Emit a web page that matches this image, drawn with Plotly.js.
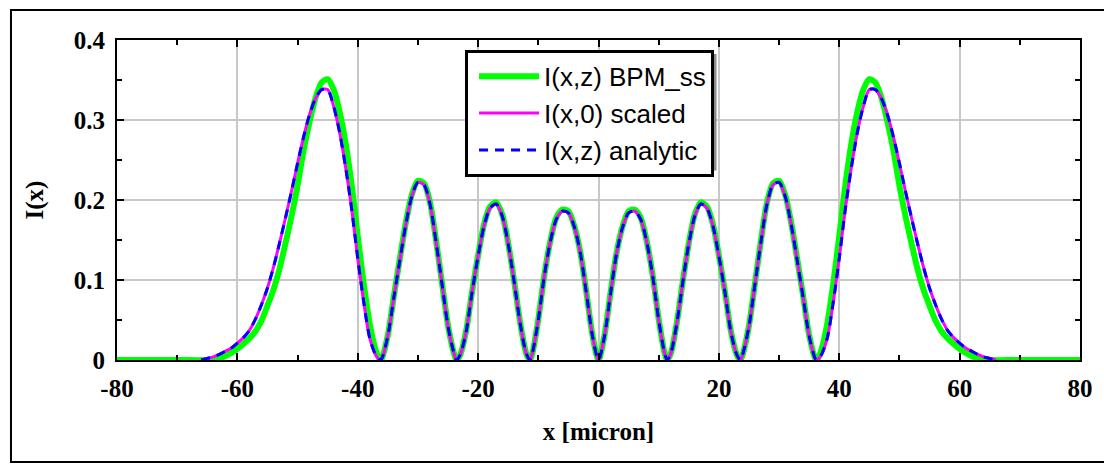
<!DOCTYPE html>
<html>
<head>
<meta charset="utf-8">
<script src="https://cdn.plot.ly/plotly-3.0.1.min.js"></script>
<style>html,body{margin:0;padding:0;background:#fff;}#chart{width:1104px;height:464px;}</style>
</head>
<body>
<div id="chart"></div>
<script>
// x grid (micron) for the scaled and analytic curves
var xFine = [-66,-65,-64,-63,-62,-61,-60,-59,-58,-57,-56,-55,-54,-53,-52,-51,-50,-49,-48,-47,-46,-45,-44,-43,-42,-41,-40,-39,-38,-37,-36.3,
  -36,-35,-34,-33,-32,-31,-30,-29,-28,-27,-26,-25,-24,-23.6,
  -23,-22,-21,-20,-19,-18,-17,-16,-15,-14,-13,-12,-11.4,
  -11,-10,-9,-8,-7,-6,-5,-4,-3,-2,-1,0,
  1,2,3,4,5,6,7,8,9,10,11,11.4,
  12,13,14,15,16,17,18,19,20,21,22,23,23.6,
  24,25,26,27,28,29,30,31,32,33,34,35,36,36.3,
  37,38,39,40,41,42,43,44,45,46,47,48,49,50,51,52,53,54,55,56,57,58,59,60,61,62,63,64,65,66];

// I(x,0) scaled
var yScaled = [0.000,0.002,0.004,0.007,0.011,0.015,0.021,0.028,0.037,0.051,0.069,0.090,0.116,0.146,0.178,0.211,0.246,0.279,0.307,0.327,0.338,0.338,0.317,0.284,0.240,0.188,0.127,0.072,0.027,0.006,0,
  0.002,0.030,0.078,0.125,0.170,0.205,0.222,0.219,0.195,0.148,0.095,0.042,0.008,0,
  0.006,0.035,0.085,0.130,0.168,0.190,0.195,0.180,0.145,0.097,0.045,0.008,0,
  0.008,0.050,0.105,0.148,0.176,0.186,0.184,0.166,0.133,0.083,0.030,0,
  0.030,0.083,0.133,0.166,0.184,0.186,0.176,0.148,0.105,0.050,0.008,0,
  0.008,0.045,0.097,0.145,0.180,0.195,0.190,0.168,0.130,0.085,0.035,0.006,0,
  0.008,0.042,0.095,0.148,0.195,0.219,0.222,0.205,0.170,0.125,0.078,0.030,0.002,0,
  0.006,0.027,0.072,0.127,0.188,0.240,0.284,0.317,0.338,0.338,0.327,0.307,0.279,0.246,0.211,0.178,0.146,0.116,0.090,0.069,0.051,0.037,0.028,0.021,0.015,0.011,0.007,0.004,0.002,0.000];

// I(x,z) analytic
var yAnalytic = [0.000,0.002,0.004,0.007,0.011,0.015,0.021,0.028,0.037,0.051,0.069,0.090,0.116,0.146,0.178,0.211,0.246,0.279,0.307,0.327,0.338,0.338,0.317,0.284,0.240,0.188,0.127,0.072,0.027,0.006,0,
  0.002,0.030,0.078,0.125,0.170,0.205,0.222,0.219,0.195,0.148,0.095,0.042,0.008,0,
  0.006,0.035,0.085,0.130,0.168,0.190,0.195,0.180,0.145,0.097,0.045,0.008,0,
  0.008,0.050,0.105,0.148,0.176,0.186,0.184,0.166,0.133,0.083,0.030,0,
  0.030,0.083,0.133,0.166,0.184,0.186,0.176,0.148,0.105,0.050,0.008,0,
  0.008,0.045,0.097,0.145,0.180,0.195,0.190,0.168,0.130,0.085,0.035,0.006,0,
  0.008,0.042,0.095,0.148,0.195,0.219,0.222,0.205,0.170,0.125,0.078,0.030,0.002,0,
  0.006,0.027,0.072,0.127,0.188,0.240,0.284,0.317,0.338,0.338,0.327,0.307,0.279,0.246,0.211,0.178,0.146,0.116,0.090,0.069,0.051,0.037,0.028,0.021,0.015,0.011,0.007,0.004,0.002,0.000];

// I(x,z) BPM_ss
var xBPM = [-80,-70,-65,-64,-63,-62,-61,-60,-59,-58,-57,-56,-55,-54,-53,-52,-51,-50,-49,-48,-47,-46,-45,-44,-43,-42,-41,-40,-39,-38,-37,-36.3,
  -36,-35,-34,-33,-32,-31,-30,-29,-28,-27,-26,-25,-24,-23.6,
  -23,-22,-21,-20,-19,-18,-17,-16,-15,-14,-13,-12,-11.4,
  -11,-10,-9,-8,-7,-6,-5,-4,-3,-2,-1,0,
  1,2,3,4,5,6,7,8,9,10,11,11.4,
  12,13,14,15,16,17,18,19,20,21,22,23,23.6,
  24,25,26,27,28,29,30,31,32,33,34,35,36,36.3,
  37,38,39,40,41,42,43,44,45,46,47,48,49,50,51,52,53,54,55,56,57,58,59,60,61,62,63,64,65,70,80];
var yBPM = [0,0,0,0.001,0.002,0.005,0.009,0.014,0.020,0.027,0.036,0.049,0.068,0.088,0.114,0.146,0.180,0.218,0.262,0.298,0.328,0.347,0.351,0.338,0.310,0.270,0.218,0.155,0.095,0.045,0.012,0,
  0.002,0.031,0.080,0.127,0.172,0.207,0.224,0.221,0.197,0.150,0.096,0.043,0.008,0,
  0.006,0.036,0.086,0.131,0.170,0.192,0.197,0.182,0.146,0.098,0.046,0.008,0,
  0.008,0.051,0.106,0.149,0.178,0.188,0.186,0.167,0.134,0.084,0.031,0,
  0.031,0.084,0.134,0.167,0.186,0.188,0.178,0.149,0.106,0.051,0.008,0,
  0.008,0.046,0.098,0.146,0.182,0.197,0.192,0.170,0.131,0.086,0.036,0.006,0,
  0.008,0.043,0.096,0.150,0.197,0.221,0.224,0.207,0.172,0.127,0.080,0.031,0.002,0,
  0.012,0.045,0.095,0.155,0.218,0.270,0.310,0.338,0.351,0.347,0.328,0.298,0.262,0.218,0.180,0.146,0.114,0.088,0.068,0.049,0.036,0.027,0.020,0.014,0.009,0.005,0.002,0.001,0,0,0];

var seriesNames = ['I(x,z) BPM_ss', 'I(x,0) scaled', 'I(x,z) analytic'];
var xTickVals = [-80,-60,-40,-20,0,20,40,60,80];
var xTickText = ['-80','-60','-40','-20','0','20','40','60','80'];
var yTickVals = [0,0.1,0.2,0.3,0.4];
var yTickText = ['0','0.1','0.2','0.3','0.4'];

var traces = [
  {x:xBPM, y:yBPM, name:seriesNames[0], type:'scatter', mode:'lines',
   line:{color:'#00ff00', width:6, shape:'spline', smoothing:0.8}},
  {x:xFine, y:yScaled, name:seriesNames[1], type:'scatter', mode:'lines',
   line:{color:'#ff00ff', width:3, shape:'spline', smoothing:0.8}},
  {x:xFine, y:yAnalytic, name:seriesNames[2], type:'scatter', mode:'lines',
   line:{color:'#0000ff', width:3, dash:'9px,7px', shape:'spline', smoothing:0.8}}
];

var serif = 'Liberation Serif, Times New Roman, serif';
var tickFont = {family:serif, size:25, color:'#000', weight:'bold'};
var titleFont = {family:serif, size:25, color:'#000', weight:'bold'};

var layout = {
  width:1104, height:464,
  margin:{l:117, r:24, t:40, b:104, pad:0},
  paper_bgcolor:'#fff', plot_bgcolor:'#fff',
  showlegend:true,
  xaxis:{
    range:[-80,80], tickmode:'array', tickvals:xTickVals, ticktext:xTickText,
    ticks:'inside', ticklen:7, tickwidth:2, tickcolor:'#000',
    showline:true, linecolor:'#000', linewidth:2, mirror:'ticks',
    showgrid:true, gridcolor:'#c8c8c8', gridwidth:2, zeroline:false,
    tickfont:tickFont, ticklabelstandoff:5,
    minor:{dtick:10, tick0:0, ticks:'inside', ticklen:5, tickwidth:2, tickcolor:'#000', showgrid:false},
    title:{text:'x [micron]', font:titleFont, standoff:21}
  },
  yaxis:{
    range:[0,0.4], tickmode:'array', tickvals:yTickVals, ticktext:yTickText,
    ticks:'inside', ticklen:7, tickwidth:2, tickcolor:'#000',
    showline:true, linecolor:'#000', linewidth:2, mirror:'ticks',
    showgrid:true, gridcolor:'#c8c8c8', gridwidth:2, zeroline:false,
    tickfont:tickFont, ticklabelstandoff:5,
    minor:{dtick:0.05, tick0:0, ticks:'inside', ticklen:5, tickwidth:2, tickcolor:'#000', showgrid:false},
    title:{text:'I(x)', font:titleFont, standoff:23}
  },
  legend:{
    x:0.3614, y:0.969, xanchor:'left', yanchor:'top',
    bgcolor:'#fff', bordercolor:'#000', borderwidth:3,
    font:{family:'Liberation Sans, Arial, sans-serif', size:26, color:'#000'},
    itemwidth:60, indentation:6, tracegroupgap:0
  },
  shapes:[
    {type:'rect', xref:'paper', yref:'paper', x0:-0.1101, x1:1.06, y0:-0.3188, y1:1.0938,
     line:{color:'#000', width:2}, fillcolor:'rgba(0,0,0,0)', layer:'above'},
    {type:'rect', xref:'paper', yref:'paper', x0:(469-117)/963, x1:(716.5-117)/963, y0:(360-170.5)/320, y1:(360-54)/320,
     line:{width:0}, fillcolor:'#8c8c8c', layer:'above'}
  ]
};

Plotly.newPlot('chart', traces, layout, {displayModeBar:false, staticPlot:true});
</script>
</body>
</html>
